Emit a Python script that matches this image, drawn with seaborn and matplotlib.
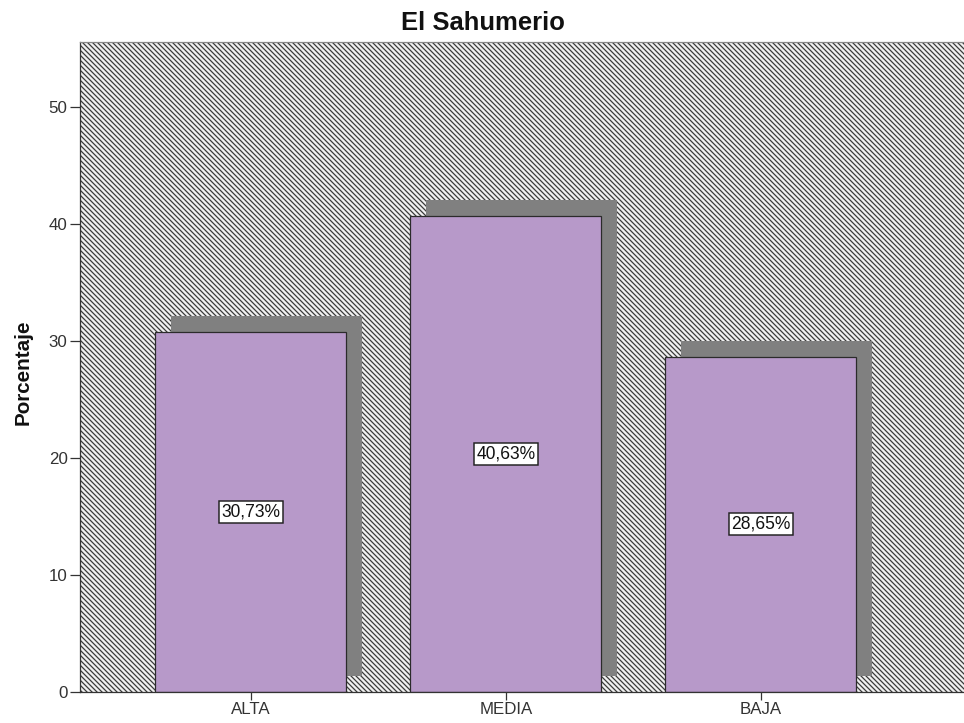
import matplotlib
matplotlib.use("Agg")
import matplotlib.pyplot as plt
import matplotlib.patheffects as pe
from matplotlib.patches import Rectangle
import seaborn as sns
import pandas as pd

categories = ["ALTA", "MEDIA", "BAJA"]
values = [30.73, 40.63, 28.65]
labels = ["30,73%", "40,63%", "28,65%"]
y_ticks = [0, 10, 20, 30, 40, 50]

sns.set_style("white")
plt.rcParams["font.family"] = ["Liberation Sans", "DejaVu Sans"]
plt.rcParams["hatch.linewidth"] = 1.0
plt.rcParams["hatch.color"] = "#3a3a3a"

DPI = 90
fig = plt.figure(figsize=(965 / DPI, 723 / DPI), dpi=DPI)
ax = fig.add_axes([80 / 965, 31 / 723, 885 / 965, 650 / 723])

# hatched background
bg = Rectangle((0, 0), 1, 1, transform=ax.transAxes, facecolor="#f0f0f0",
               edgecolor="#3a3a3a", hatch="\\" * 6, linewidth=0, zorder=0)
ax.add_patch(bg)

df = pd.DataFrame({"cat": categories, "val": values})
sns.barplot(data=df, x="cat", y="val", order=categories, color="#b799c9",
            saturation=1, width=0.749, edgecolor="#2b2b2b", linewidth=1.0,
            ax=ax, zorder=2)

shadow = pe.SimplePatchShadow(offset=(12.8, 12.8), shadow_rgbFace="#808080",
                              alpha=1.0)
for bar in ax.patches:
    if bar is bg:
        continue
    bar.set_path_effects([shadow, pe.Normal()])

for i, (v, lab) in enumerate(zip(values, labels)):
    ax.text(i, v / 2, lab, ha="center", va="center", fontsize=14,
            color="#111111", zorder=5,
            bbox=dict(boxstyle="square,pad=0.15", facecolor="white",
                      edgecolor="#222222", linewidth=1.2))

ax.set_xlim(-0.669, 2.80)
ax.set_ylim(0, 55.53)
ax.set_yticks(y_ticks)
ax.set_yticklabels([str(t) for t in y_ticks])
ax.set_xlabel("")
ax.set_ylabel("")

for side in ["left", "bottom"]:
    ax.spines[side].set_visible(True)
    ax.spines[side].set_color("#333333")
    ax.spines[side].set_linewidth(1.0)
ax.spines["top"].set_visible(True)
ax.spines["top"].set_color("#888888")
ax.spines["top"].set_linewidth(1.0)
ax.spines["right"].set_visible(False)

ax.tick_params(axis="y", which="major", left=True, length=8, width=1.0,
               color="#333333", labelsize=13.5, labelcolor="#333333", pad=2)
ax.tick_params(axis="x", which="major", bottom=True, length=6, width=1.0,
               color="#333333", labelsize=13.5, labelcolor="#333333", pad=2)

fig.text(0.5, (723 - 30.5) / 723, "El Sahumerio", ha="center", va="baseline",
         fontsize=20.5, fontweight="bold", color="#111111")
fig.text(23 / 965, (723 - 372) / 723, "Porcentaje", rotation=90, ha="center",
         va="center", fontsize=16.5, fontweight="bold", color="#111111")

fig.savefig("out.png", dpi=DPI)
